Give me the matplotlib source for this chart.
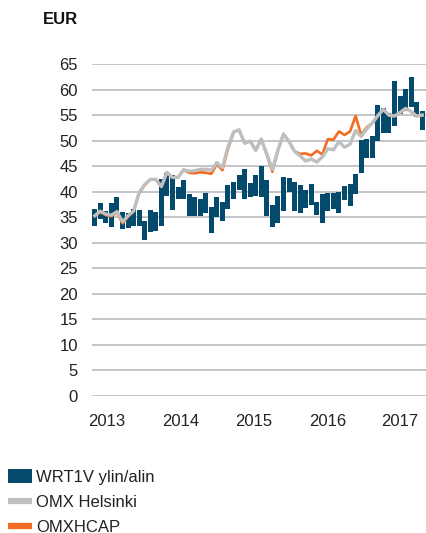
import matplotlib
matplotlib.use("Agg")
import matplotlib.pyplot as plt
from matplotlib.lines import Line2D
import numpy as np

plt.rcParams['font.family'] = ['Liberation Sans', 'DejaVu Sans']

# monthly high / low of the share, Jan 2013 .. Dec 2017
share_high = [36.6, 37.8, 36.3, 37.7, 39.0, 36.0, 35.8, 36.6, 36.4, 34.2,
              36.4, 36.0, 42.4, 43.6, 43.2, 41.0, 42.3, 39.6, 39.0, 38.5,
              39.8, 37.0, 38.9, 38.0, 41.3, 41.9, 43.3, 44.5, 41.7, 43.3,
              45.0, 42.3, 37.4, 39.1, 42.8, 42.6, 41.8, 41.4, 40.4, 41.5,
              38.0, 39.5, 39.7, 39.7, 40.0, 41.1, 41.6, 43.4, 50.2, 50.3,
              51.0, 57.0, 56.4, 55.5, 61.7, 58.7, 60.2, 62.5, 57.6, 55.8]
share_low = [33.3, 34.6, 33.9, 33.0, 35.6, 32.6, 32.8, 33.3, 33.2, 30.5,
             32.2, 32.3, 33.2, 39.2, 36.4, 38.6, 38.6, 35.2, 35.3, 35.3,
             35.8, 32.0, 35.1, 34.2, 36.6, 38.5, 40.4, 38.5, 38.9, 39.2,
             39.0, 35.2, 33.0, 33.8, 36.3, 40.0, 36.3, 35.9, 36.8, 37.3,
             35.4, 33.8, 36.3, 36.6, 35.9, 38.3, 37.2, 39.6, 43.6, 46.5,
             46.6, 50.0, 51.5, 51.5, 52.8, 55.2, 55.8, 56.5, 54.7, 52.1]

# indices rebased to the share price
omx_helsinki = [35.3, 36.2, 35.6, 35.4, 36.1, 34.1, 35.3, 36.2, 39.9, 41.4,
                42.4, 42.4, 41.0, 43.8, 42.8, 42.8, 44.3, 44.0, 44.1, 44.4,
                44.4, 44.2, 45.7, 44.7, 48.8, 51.7, 52.1, 49.5, 49.9, 48.1,
                50.3, 47.4, 44.3, 48.2, 51.3, 49.8, 47.9, 47.0, 46.0, 46.4,
                45.8, 46.8, 48.4, 48.2, 49.8, 48.7, 49.3, 52.0, 50.8, 52.3,
                53.4, 54.9, 56.1, 55.0, 54.8, 55.5, 56.3, 55.7, 54.8, 55.0]
omxhcap = [35.3, 36.0, 35.4, 35.2, 35.9, 33.8, 35.1, 36.2, 39.7, 41.3,
           42.4, 42.4, 41.0, 43.7, 42.8, 42.8, 44.3, 43.7, 43.6, 43.8,
           43.7, 43.5, 45.4, 44.2, 48.4, 51.6, 52.1, 49.5, 49.9, 48.1,
           50.3, 47.2, 43.9, 48.0, 51.3, 49.8, 47.9, 47.4, 47.5, 47.1,
           48.0, 47.3, 50.3, 50.2, 51.8, 51.1, 51.8, 54.8, 51.1, 52.6,
           53.4, 54.9, 56.1, 55.0, 54.8, 55.5, 56.3, 55.7, 54.8, 55.0]

year_labels = ['2013', '2014', '2015', '2016', '2017']
yticks = list(range(0, 70, 5))

navy = '#044a6c'
grey = '#bfbfbf'
orange = '#f26b21'
txt = '#222222'

fig = plt.figure(figsize=(4.26, 5.33), dpi=100)
ax = fig.add_axes([92 / 426, 1 - 396 / 533, 334 / 426, 332 / 533])

x = np.arange(len(share_high))
hi = np.array(share_high)
lo = np.array(share_low)
ax.bar(x, hi - lo, bottom=lo, width=0.9, color=navy, zorder=2)
ax.plot(x, omxhcap, color=orange, lw=1.9, zorder=3, solid_joinstyle='round')
ax.plot(x, omx_helsinki, color=grey, lw=2.4, zorder=4, solid_joinstyle='round')

ax.set_xlim(-0.5, 59.68)
ax.set_ylim(0, 65)
ax.set_yticks(yticks)
ax.set_yticklabels([str(t) for t in yticks])
ax.yaxis.grid(True, color='#c4c5c9', lw=1.4, zorder=0)
ax.set_axisbelow(True)
ax.set_xticks([2.2, 15.4, 28.6, 41.9, 55.0])
ax.set_xticklabels(year_labels)
for s in ax.spines.values():
    s.set_visible(False)
ax.tick_params(axis='both', length=0, labelsize=12, colors=txt)
ax.tick_params(axis='y', pad=10)
ax.tick_params(axis='x', pad=13)
for lab in ax.get_yticklabels() + ax.get_xticklabels():
    lab.set_color(txt)

fig.text(78 / 426, 1 - 19 / 533, 'EUR', ha='right', va='center',
         fontsize=12, fontweight='bold', color='#111111')

handles = [Line2D([], [], color=navy, lw=10, solid_capstyle='butt'),
           Line2D([], [], color=grey, lw=4.5, solid_capstyle='butt'),
           Line2D([], [], color=orange, lw=4.5, solid_capstyle='butt')]
labels = ['WRT1V ylin/alin', 'OMX Helsinki', 'OMXHCAP']
fig.legend(handles, labels, loc='upper left', bbox_to_anchor=(9 / 426 - 0.003, 1 - 470 / 533),
           frameon=False, fontsize=12, handlelength=1.44, handletextpad=0.25,
           labelspacing=0.6, borderpad=0, borderaxespad=0, labelcolor=txt)

fig.savefig('out.png', dpi=100)
